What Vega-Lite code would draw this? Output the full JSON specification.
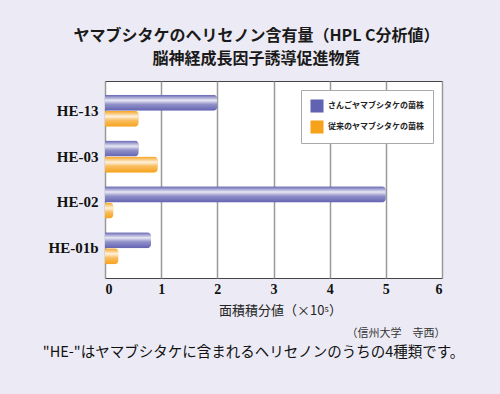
{
  "$schema": "https://vega.github.io/schema/vega-lite/v6.json",
  "width": 337,
  "height": 197,
  "autosize": {"type": "none"},
  "padding": {"left": 105, "top": 81, "right": 58, "bottom": 116},
  "background": "#ecebf5",
  "title": {
    "text": ["ヤマブシタケのヘリセノン含有量（HPL C分析値）", "脳神経成長因子誘導促進物質"],
    "font": "Noto Sans CJK JP",
    "fontSize": 16,
    "fontWeight": "bold",
    "color": "#1a1a1a",
    "lineHeight": 23,
    "anchor": "middle",
    "dx": -17,
    "offset": 14
  },
  "config": {"view": {"stroke": "#444", "strokeWidth": 1, "fill": "white"}},
  "data": {
    "values": [
      {"he": "HE-13", "strain": "さんごヤマブシタケの菌株", "value": 2.0},
      {"he": "HE-13", "strain": "従来のヤマブシタケの菌株", "value": 0.6},
      {"he": "HE-03", "strain": "さんごヤマブシタケの菌株", "value": 0.6},
      {"he": "HE-03", "strain": "従来のヤマブシタケの菌株", "value": 0.94},
      {"he": "HE-02", "strain": "さんごヤマブシタケの菌株", "value": 5.0},
      {"he": "HE-02", "strain": "従来のヤマブシタケの菌株", "value": 0.15},
      {"he": "HE-01b", "strain": "さんごヤマブシタケの菌株", "value": 0.82},
      {"he": "HE-01b", "strain": "従来のヤマブシタケの菌株", "value": 0.24}
    ]
  },
  "layer": [
    {
      "mark": {"type": "bar", "cornerRadiusEnd": 4},
      "encoding": {
        "y": {
          "field": "he", "type": "nominal",
          "sort": ["HE-13", "HE-03", "HE-02", "HE-01b"],
          "scale": {"paddingInner": 0.3, "paddingOuter": 0.3},
          "axis": {"title": null, "labelFont": "Liberation Serif", "labelFontWeight": "bold", "labelFontSize": 15, "labelColor": "#111", "ticks": false, "domain": false, "labelPadding": 7}
        },
        "yOffset": {
          "field": "strain", "type": "nominal",
          "sort": ["さんごヤマブシタケの菌株", "従来のヤマブシタケの菌株"],
          "scale": {"paddingInner": 0, "paddingOuter": 0}
        },
        "x": {
          "field": "value", "type": "quantitative",
          "scale": {"domain": [0, 6]},
          "axis": {
            "values": [0, 1, 2, 3, 4, 5, 6],
            "title": "面積積分値（×10⁵）",
            "labelFont": "Liberation Serif", "labelFontWeight": "bold", "labelFontSize": 14, "labelColor": "#111",
            "ticks": false, "domain": false, "labelPadding": 4,
            "grid": true, "gridColor": "#999", "gridWidth": 1.5,
            "titleFont": "Noto Sans CJK JP", "titleFontSize": 13, "titleFontWeight": "normal", "titleColor": "#222",
            "titleX": 175, "titleY": 32, "titleBaseline": "middle", "titleAlign": "center"
          }
        },
        "color": {
          "field": "strain", "type": "nominal",
          "scale": {"domain": ["さんごヤマブシタケの菌株", "従来のヤマブシタケの菌株"], "range": ["#6262b2", "#f7a21b"]},
          "legend": {
            "title": null, "orient": "top-right", "offset": 9,
            "fillColor": "white", "strokeColor": "#aaa", "padding": 9,
            "symbolType": "square", "symbolSize": 170, "symbolStrokeWidth": 0,
            "labelFont": "Noto Sans CJK JP", "labelFontWeight": "bold", "labelFontSize": 8, "labelColor": "#222",
            "rowPadding": 7
          }
        }
      }
    },
    {
      "mark": {
        "type": "bar", "cornerRadiusEnd": 4,
        "fill": {
          "gradient": "linear", "x1": 0, "y1": 0, "x2": 0, "y2": 1,
          "stops": [
            {"offset": 0, "color": "rgba(255,255,255,0)"},
            {"offset": 0.35, "color": "rgba(255,255,255,0.85)"},
            {"offset": 0.6, "color": "rgba(255,255,255,0.3)"},
            {"offset": 1, "color": "rgba(255,255,255,0)"}
          ]
        }
      },
      "encoding": {
        "y": {"field": "he", "type": "nominal", "sort": ["HE-13", "HE-03", "HE-02", "HE-01b"]},
        "yOffset": {"field": "strain", "type": "nominal", "sort": ["さんごヤマブシタケの菌株", "従来のヤマブシタケの菌株"]},
        "x": {"field": "value", "type": "quantitative", "scale": {"domain": [0, 6]}, "axis": null}
      }
    },
    {
      "mark": {"type": "rule", "opacity": 0},
      "encoding": {
        "x": {
          "datum": 0, "type": "quantitative", "scale": {"domain": [0, 6]},
          "axis": {
            "orient": "bottom", "labels": false, "ticks": false, "domain": false, "grid": false,
            "title": "（信州大学　寺西）",
            "titleFont": "Noto Sans CJK JP", "titleFontSize": 11, "titleFontWeight": "normal", "titleColor": "#333",
            "titleX": 340, "titleY": 55, "titleAlign": "right", "titleBaseline": "middle", "titleLimit": 1000
          }
        }
      }
    },
    {
      "mark": {"type": "rule", "opacity": 0},
      "encoding": {
        "x": {
          "datum": 0, "type": "quantitative", "scale": {"domain": [0, 6]},
          "axis": {
            "orient": "bottom", "labels": false, "ticks": false, "domain": false, "grid": false,
            "title": "\"HE-\"はヤマブシタケに含まれるヘリセノンのうちの4種類です。",
            "titleFont": "Noto Sans CJK JP", "titleFontSize": 14.5, "titleFontWeight": "normal", "titleColor": "#111",
            "titleX": 148, "titleY": 74, "titleAlign": "center", "titleBaseline": "middle", "titleLimit": 1000
          }
        }
      }
    }
  ],
  "resolve": {"scale": {"x": "independent"}, "axis": {"x": "independent"}}
}
